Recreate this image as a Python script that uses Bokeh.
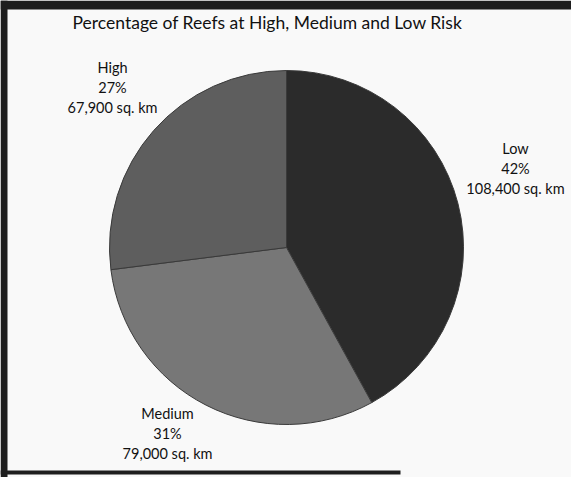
import math
from bokeh.plotting import figure
from bokeh.models import Range1d, ColumnDataSource, BoxAnnotation
from bokeh.core.properties import value
from bokeh.embed import file_html
from bokeh.resources import INLINE

# ---- data ----
categories = ["Low", "Medium", "High"]
percents = [42, 31, 27]
areas = ["108,400", "79,000", "67,900"]
colors = ["#2b2b2b", "#777777", "#5e5e5e"]
title_text = "Percentage of Reefs at High, Medium and Low Risk"

# ---- layout ----
W, H = 571, 477
FONT = "Lato"
OFF = 0

def dx(px):
    return px - OFF

def dy(py):
    return (H + OFF) - py

cx, cy, r = dx(286), dy(247), 177

total = float(sum(percents))
starts, ends, cum = [], [], 0.0
for v in percents:
    starts.append(math.pi / 2 - 2 * math.pi * cum / total)
    cum += v
    ends.append(math.pi / 2 - 2 * math.pi * cum / total)

src = ColumnDataSource(dict(
    x=[cx] * len(categories), y=[cy] * len(categories),
    start=starts, end=ends, color=colors,
))

p = figure(width=W, height=H, x_range=Range1d(0, W), y_range=Range1d(0, H),
           output_backend="svg", toolbar_location=None, min_border=0)
p.axis.visible = False
p.grid.visible = False
p.background_fill_color = "#f9f9f9"
p.border_fill_color = "#f9f9f9"
p.outline_line_color = None

# scanned frame edges
edge = "#1e1e1e"
p.add_layout(BoxAnnotation(left=0, right=W, top=H, bottom=dy(9),
                           fill_color=edge, fill_alpha=1, line_color=None))
p.add_layout(BoxAnnotation(left=0, right=7, top=H, bottom=0,
                           fill_color=edge, fill_alpha=1, line_color=None))
p.add_layout(BoxAnnotation(left=0, right=400, top=dy(470), bottom=dy(474),
                           fill_color=edge, fill_alpha=1, line_color=None))

p.wedge(x="x", y="y", radius=r, start_angle="start", end_angle="end",
        direction="clock", fill_color="color", line_color="#3a3a3a",
        line_width=1, source=src)

# title
p.text(x=[dx(267)], y=[dy(22)], text=[title_text], text_font=value(FONT),
       text_font_size="17.5px", text_align="center", text_baseline="middle",
       text_color="#111111")

# slice labels (anchor positions in page pixels)
label_pos = {"Low": (515, 168), "Medium": (167, 433), "High": (112, 87)}
lx, ly, lt = [], [], []
for c, pc, a in zip(categories, percents, areas):
    px, py = label_pos[c]
    lx.append(dx(px))
    ly.append(dy(py))
    lt.append(f"{c}\n{pc}%\n{a} sq. km")
p.text(x=lx, y=ly, text=lt, text_font=value(FONT), text_font_size="14.5px",
       text_align="center", text_baseline="middle", text_line_height=1.15,
       text_color="#111111")

open("out.html", "w").write(file_html(p, INLINE))
